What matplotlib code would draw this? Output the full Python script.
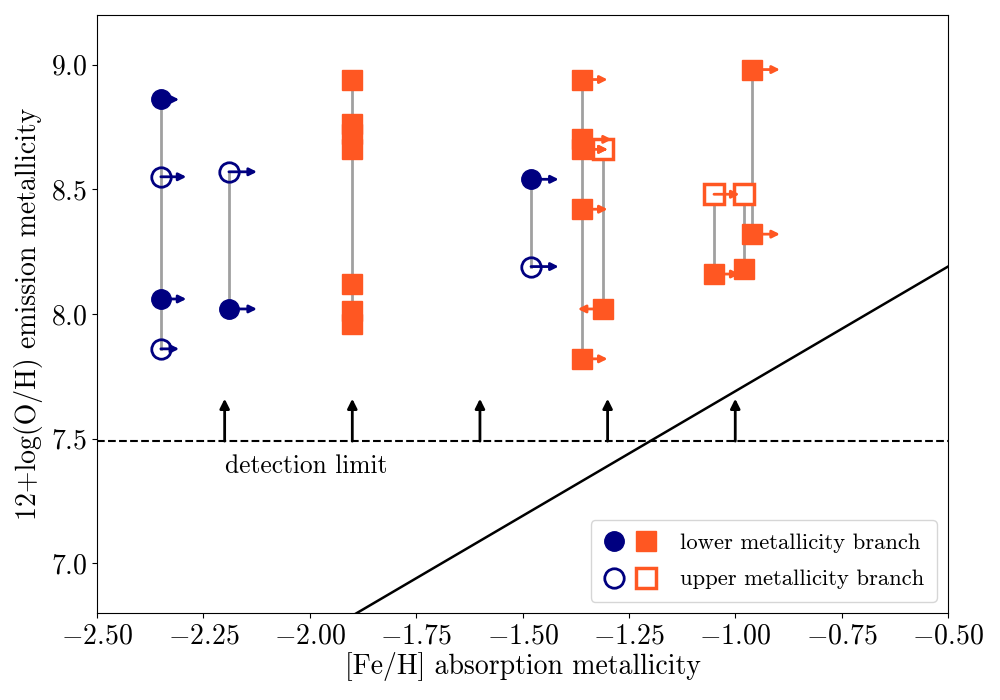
import numpy as np
import matplotlib
matplotlib.use("Agg")
import matplotlib.pyplot as plt
from matplotlib.legend_handler import HandlerTuple

plt.rcParams['font.family'] = 'serif'
plt.rcParams['font.serif'] = ['cmr10']
plt.rcParams['mathtext.fontset'] = 'cm'
plt.rcParams['axes.formatter.use_mathtext'] = True

# blue circles (x, y, arrow tip x)
circ_low_x = [-2.35, -2.35, -2.19, -1.48]
circ_low_y = [8.86, 8.06, 8.02, 8.54]
circ_low_tip = [-2.307, -2.29, -2.124, -1.415]
circ_up_x = [-2.35, -2.35, -2.19, -1.48]
circ_up_y = [8.55, 7.86, 8.57, 8.19]
circ_up_tip = [-2.29, -2.307, -2.124, -1.415]

# orange squares (tip None = no arrow)
sq_low_x = [-1.90, -1.90, -1.90, -1.90, -1.90, -1.90, -1.90,
            -1.36, -1.36, -1.36, -1.36, -1.36, -1.31, -1.05, -0.98, -0.96, -0.96]
sq_low_y = [8.94, 8.76, 8.72, 8.66, 8.12, 8.01, 7.96,
            8.94, 8.70, 8.66, 8.42, 7.82, 8.02, 8.16, 8.18, 8.98, 8.32]
sq_low_tip = [None, None, None, None, None, None, None,
              -1.30, -1.29, -1.30, -1.30, -1.30, -1.37, -0.99, None, -0.895, -0.895]
sq_up_x = [-1.31, -1.05, -0.98]
sq_up_y = [8.66, 8.48, 8.48]
sq_up_tip = [-1.30, -0.99, None]

det_limit = 7.49
det_arrow_x = [-2.2, -1.9, -1.6, -1.3, -1.0]
solar_line_x = [-2.5, -0.5]
solar_oh = 8.69

navy = '#000080'
orange = '#FF5722'
gray = '#a0a0a0'

fig = plt.figure(figsize=(10, 7), dpi=100)
ax = fig.add_axes([0.097, 0.124, 0.851, 0.855])

# vertical connectors per galaxy
all_x = np.array(circ_low_x + circ_up_x + sq_low_x + sq_up_x)
all_y = np.array(circ_low_y + circ_up_y + sq_low_y + sq_up_y)
for xv in np.unique(all_x):
    ys = all_y[all_x == xv]
    ax.plot([xv, xv], [ys.min(), ys.max()], color=gray, lw=2, zorder=1)

def arrows(xs, ys, tips, col):
    for x, y, t in zip(xs, ys, tips):
        if t is None:
            continue
        ax.annotate('', xy=(t, y), xytext=(x, y),
                    arrowprops=dict(arrowstyle='-|>', color=col, lw=2,
                                    mutation_scale=11, shrinkA=0, shrinkB=0),
                    zorder=4)

arrows(circ_low_x, circ_low_y, circ_low_tip, navy)
arrows(circ_up_x, circ_up_y, circ_up_tip, navy)
arrows(sq_low_x, sq_low_y, sq_low_tip, orange)
arrows(sq_up_x, sq_up_y, sq_up_tip, orange)

ax.plot(circ_low_x, circ_low_y, 'o', color=navy, ms=14, ls='none', zorder=3)
ax.plot(circ_up_x, circ_up_y, 'o', mfc='none', mec=navy, mew=2, ms=14, ls='none', zorder=3)
ax.plot(sq_low_x, sq_low_y, 's', color=orange, ms=15, ls='none', zorder=3)
ax.plot(sq_up_x, sq_up_y, 's', mfc='white', mec=orange, mew=2.5, ms=15, ls='none', zorder=3)

# detection limit
ax.axhline(det_limit, color='k', ls='--', lw=1.5, zorder=2)
for xa in det_arrow_x:
    ax.annotate('', xy=(xa, det_limit + 0.17), xytext=(xa, det_limit),
                arrowprops=dict(arrowstyle='-|>', color='k', lw=2,
                                mutation_scale=14, shrinkA=0, shrinkB=0))
ax.text(-2.2, 7.39, 'detection limit', fontsize=18.3, va='center', ha='left')

# solar O/H vs [Fe/H]
ax.plot(solar_line_x, np.array(solar_line_x) + solar_oh, color='k', lw=1.8, zorder=2)

ax.set_xlim(-2.5, -0.5)
ax.set_ylim(6.8, 9.2)
ax.set_xticks([-2.5, -2.25, -2.0, -1.75, -1.5, -1.25, -1.0, -0.75, -0.5])
ax.set_yticks([7.0, 7.5, 8.0, 8.5, 9.0])
ax.xaxis.set_major_formatter(matplotlib.ticker.FormatStrFormatter('$%.2f$'))
ax.yaxis.set_major_formatter(matplotlib.ticker.FormatStrFormatter('$%.1f$'))
ax.tick_params(labelsize=20)
ax.set_xlabel('[Fe/H] absorption metallicity', fontsize=20, labelpad=2)
ax.set_ylabel('12+log(O/H) emission metallicity', fontsize=20, labelpad=6)

h1, = ax.plot([], [], 'o', color=navy, ms=14, ls='none')
h2, = ax.plot([], [], 's', color=orange, ms=15, ls='none')
h3, = ax.plot([], [], 'o', mfc='none', mec=navy, mew=2, ms=14, ls='none')
h4, = ax.plot([], [], 's', mfc='none', mec=orange, mew=2.5, ms=15, ls='none')
ax.legend([(h1, h2), (h3, h4)], ['lower metallicity branch', 'upper metallicity branch'],
          handler_map={tuple: HandlerTuple(ndivide=None, pad=0.4)},
          loc='lower right', fontsize=16.3, handlelength=2.4, borderpad=0.55,
          labelspacing=0.75, handletextpad=1.0)

fig.savefig('out.png', dpi=100)
